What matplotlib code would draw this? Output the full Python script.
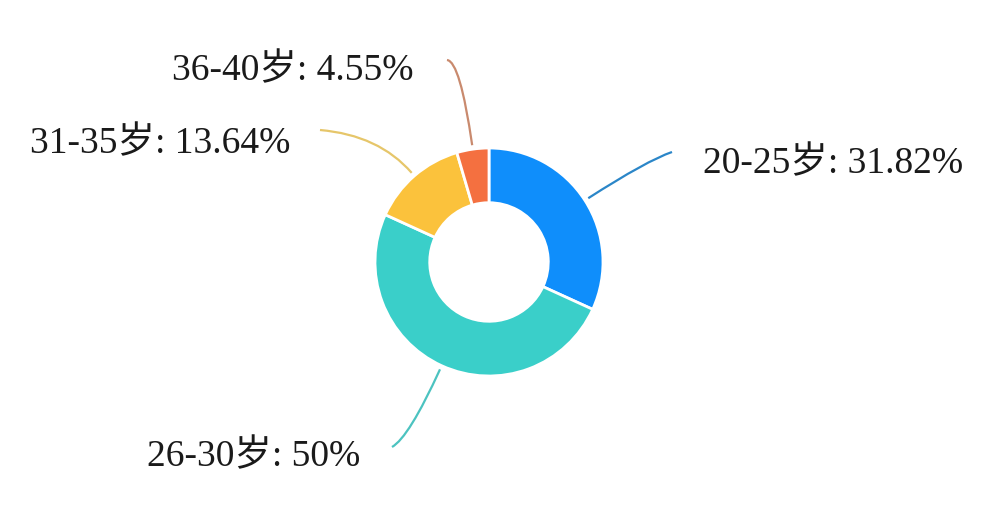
import numpy as np
import matplotlib.pyplot as plt
from matplotlib.path import Path
from matplotlib.patches import PathPatch

# Data
labels = ['20-25岁', '26-30岁', '31-35岁', '36-40岁']
values = [31.82, 50, 13.64, 4.55]
value_text = ['31.82%', '50%', '13.64%', '4.55%']
colors = ['#0F8EFB', '#3ACFC9', '#FBC23C', '#F47040']
line_colors = ['#2B86C8', '#4CC3C0', '#E6C66A', '#C98A6E']

W, H = 1008, 526
cx, cy = 489, 262  # pixel coords (y down)
R = 114

fig = plt.figure(figsize=(W / 100, H / 100), dpi=100)
ax = fig.add_axes([0, 0, 1, 1])

ax.pie(values, colors=colors, center=(cx, H - cy), radius=R,
       startangle=90, counterclock=False,
       wedgeprops=dict(width=R * 0.48, edgecolor='white', linewidth=2))
ax.set_xlim(0, W)
ax.set_ylim(0, H)
ax.set_aspect('equal')
ax.axis('off')

# layout for leader lines / labels: (ctrl length, end point, text x, text y, ha)
layout = [
    (70, (672, 152), 703, 164, 'left'),
    (75, (392, 447), 360, 457, 'right'),
    (50, (320, 130), 290, 144, 'right'),
    (85, (447, 60), 413, 71, 'right'),
]

total = sum(values)
cum = 0
for i, v in enumerate(values):
    mid = 90 - (cum + v / 2) / total * 360
    cum += v
    a = np.radians(mid)
    d = np.array([np.cos(a), -np.sin(a)])
    start = np.array([cx, cy]) + d * (R + 4)
    L, end, tx, ty, ha = layout[i]
    ctrl = start + d * L
    pts = [start, ctrl, np.array(end)]
    verts = [(p[0], H - p[1]) for p in pts]
    path = Path(verts, [Path.MOVETO, Path.CURVE3, Path.CURVE3])
    ax.add_patch(PathPatch(path, facecolor='none', edgecolor=line_colors[i], lw=1.6))
    ax.text(tx, H - ty, f'{labels[i]}: {value_text[i]}', ha=ha, va='center',
            fontsize=27, color='#1a1a1a',
            family=['Liberation Serif', 'Noto Sans CJK SC'])

fig.savefig('out.png', dpi=100, facecolor='white')
